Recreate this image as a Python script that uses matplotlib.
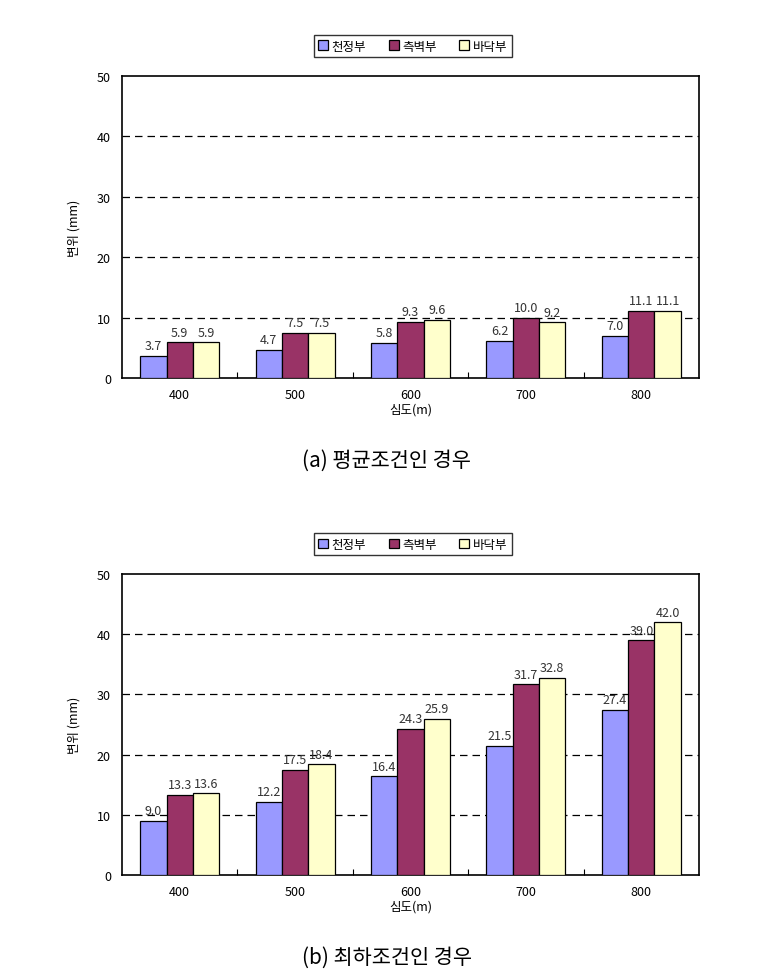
import numpy as np
import matplotlib
matplotlib.use("Agg")
import matplotlib.pyplot as plt

plt.rcParams['font.family'] = ['Noto Sans CJK KR', 'DejaVu Sans']

depths = ['400', '500', '600', '700', '800']
series = ['천정부', '측벽부', '바닥부']
colors = ['#9999FF', '#993366', '#FFFFCC']

# (a) 평균조건
avg_crown = [3.7, 4.7, 5.8, 6.2, 7.0]
avg_wall = [5.9, 7.5, 9.3, 10.0, 11.1]
avg_floor = [5.9, 7.5, 9.6, 9.2, 11.1]

# (b) 최하조건
low_crown = [9.0, 12.2, 16.4, 21.5, 27.4]
low_wall = [13.3, 17.5, 24.3, 31.7, 39.0]
low_floor = [13.6, 18.4, 25.9, 32.8, 42.0]

captions = ['(a) 평균조건인 경우', '(b) 최하조건인 경우']

fig = plt.figure(figsize=(7.84, 9.79), dpi=100)
ax_top = fig.add_axes([0.1556, 0.6129, 0.736, 0.3085])
ax_bot = fig.add_axes([0.1556, 0.1052, 0.736, 0.3075])


def draw(ax, data):
    x = np.arange(len(depths))
    w = 0.228
    for i, (vals, c, name) in enumerate(zip(data, colors, series)):
        pos = x + (i - 1) * w
        ax.bar(pos, vals, width=w, color=c, edgecolor='black', linewidth=0.9,
               label=name, zorder=3)
        for p, v in zip(pos, vals):
            ax.text(p, v + 0.6, f'{v:.1f}', ha='center', va='bottom',
                    fontsize=9, color='#333333', zorder=4)
    ax.set_xlim(-0.5, len(depths) - 0.5)
    ax.set_ylim(0, 50)
    ax.set_yticks([0, 10, 20, 30, 40, 50])
    ax.set_xticks(x)
    ax.set_xticklabels(depths)
    ax.set_xticks(np.arange(0.5, len(depths) - 0.5, 1), minor=True)
    ax.tick_params(axis='x', which='major', length=0, labelsize=9, pad=7)
    ax.tick_params(axis='x', which='minor', direction='in', length=4, width=0.8)
    ax.tick_params(axis='y', length=0, labelsize=9, pad=8)
    for y in [10, 20, 30, 40]:
        ax.axhline(y, color='black', linestyle=(0, (6, 4)), linewidth=0.9, zorder=1)
    for s in ax.spines.values():
        s.set_linewidth(1.2)
        s.set_color('black')
    ax.set_xlabel('심도(m)', fontsize=9, labelpad=1)
    ax.set_ylabel('변위 (mm)', fontsize=9, labelpad=12)
    leg = ax.legend(loc='center', bbox_to_anchor=(0.504, 1.099), ncol=3,
                    fontsize=9, frameon=True, fancybox=False,
                    edgecolor='black', handlelength=0.8, handleheight=0.8,
                    handletextpad=0.3, columnspacing=1.8, borderpad=0.35)
    leg.get_frame().set_linewidth(1.0)


draw(ax_top, [avg_crown, avg_wall, avg_floor])
draw(ax_bot, [low_crown, low_wall, low_floor])

fig.text(0.493, 1 - 461 / 979, captions[0], ha='center', va='center', fontsize=15)
fig.text(0.493, 1 - 958 / 979, captions[1], ha='center', va='center', fontsize=15)

fig.savefig('out.png', dpi=100)
